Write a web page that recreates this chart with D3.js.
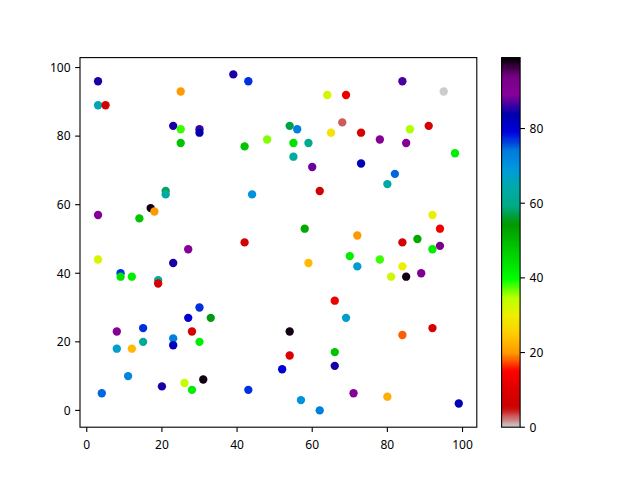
<!DOCTYPE html>
<html>
<head>
<meta charset="utf-8">
<script src="https://cdn.jsdelivr.net/npm/d3@7"></script>
<style>
html,body{margin:0;padding:0;background:#fff;}
svg text{font-family:"Noto Sans","DejaVu Sans",sans-serif;font-size:12px;fill:#000;}
</style>
</head>
<body>
<svg id="chart" width="640" height="480"></svg>
<script>
const xValues = [3,3,5,25,39,43,23,25,30,30,25,42,48,21,21,44,3,14,17,18,27,42,84,95,64,69,54,56,68,65,73,78,86,91,85,55,59,55,98,60,73,82,80,62,92,94,58,72,84,88,94,92,3,23,9,9,12,19,19,30,27,33,8,15,28,23,23,15,30,8,12,11,4,20,26,28,31,43,59,70,72,78,84,81,85,89,66,69,54,92,84,54,66,52,66,71,80,57,62,99];
const yValues = [96,89,89,93,98,96,83,82,82,81,78,77,79,64,63,63,57,56,59,58,47,49,96,93,92,92,83,82,84,81,81,79,82,83,78,78,78,74,75,71,72,69,66,64,57,53,53,51,49,50,48,47,44,43,40,39,39,38,37,30,27,27,23,24,23,21,19,20,20,18,18,10,5,7,8,6,9,6,43,45,42,44,42,39,39,40,32,27,23,24,22,16,17,12,13,5,4,3,0,2];
const cValues = [85,65,8,20,85,77,85,38,86,84,48,48,36,58,63,70,90,48,98,20,90,8,87,0,32,12,57,73,3,28,8,90,35,8,90,44,60,63,42,88,83,75,63,6,30,13,52,20,8,52,93,42,32,85,77,44,42,62,8,77,80,55,90,77,8,73,82,62,42,68,23,72,75,85,34,42,98,77,23,42,68,38,30,33,98,91,12,68,98,8,18,10,48,80,85,90,22,70,73,83];
const xTicks = [0,20,40,60,80,100];
const yTicks = [0,20,40,60,80,100];
const cTicks = [0,20,40,60,80];
const cMin = 0, cMax = 99;

// nipy_spectral colormap segments
const specR=[0,0.4667,0.5333,0,0,0,0,0,0,0,0,0,0,0.7333,0.9333,1,1,1,0.8667,0.8,0.8];
const specG=[0,0,0,0,0,0.4667,0.6,0.6667,0.6667,0.6,0.7333,0.8667,1,1,0.9333,0.8,0.6,0,0,0,0.8];
const specB=[0,0.5333,0.6,0.6667,0.8667,0.8667,0.8667,0.6667,0.5333,0,0,0,0,0,0,0,0,0,0,0,0.8];
function nipySpectralR(t){
  t = 1 - Math.max(0, Math.min(1, t));
  // quantize to 256 like matplotlib
  const idx = Math.min(255, Math.floor(t*256));
  t = idx/255;
  const p = t*20, i = Math.min(19, Math.floor(p)), f = p - i;
  const ch = a => Math.round((a[i] + (a[i+1]-a[i])*f)*255);
  return `rgb(${ch(specR)},${ch(specG)},${ch(specB)})`;
}

const svg = d3.select("#chart");
const ax = {left:80, right:476.8, top:57.6, bottom:427.2};
const x = d3.scaleLinear().domain([-1.8,103.8]).range([ax.left, ax.right]);
const y = d3.scaleLinear().domain([-4.9,102.9]).range([ax.bottom, ax.top]);
const cNorm = d3.scaleLinear().domain([cMin,cMax]).range([0,1]);

// points
const data = xValues.map((v,i)=>({x:v,y:yValues[i],c:cValues[i]}));
svg.append("g").selectAll("circle").data(data).enter().append("circle")
  .attr("cx",d=>x(d.x)).attr("cy",d=>y(d.y)).attr("r",4.17)
  .attr("fill",d=>nipySpectralR(cNorm(d.c)));

// axes frame
svg.append("rect").attr("x",ax.left).attr("y",ax.top)
  .attr("width",ax.right-ax.left).attr("height",ax.bottom-ax.top)
  .attr("fill","none").attr("stroke","#000").attr("stroke-width",1.1);

const tl = 4.86;
const gx = svg.append("g");
xTicks.forEach(t=>{
  gx.append("line").attr("x1",x(t)).attr("x2",x(t)).attr("y1",ax.bottom).attr("y2",ax.bottom+tl).attr("stroke","#000").attr("stroke-width",1.1);
  gx.append("text").attr("x",x(t)).attr("y",448.7).attr("text-anchor","middle").text(t);
});
const gy = svg.append("g");
yTicks.forEach(t=>{
  gy.append("line").attr("x1",ax.left-tl).attr("x2",ax.left).attr("y1",y(t)).attr("y2",y(t)).attr("stroke","#000").attr("stroke-width",1.1);
  gy.append("text").attr("x",ax.left-tl-4.6).attr("y",y(t)+4.3).attr("text-anchor","end").text(t);
});

// colorbar
const cb = {left:501.6, right:520.1, top:57.6, bottom:427.2};
const cy = d3.scaleLinear().domain([cMin,cMax]).range([cb.bottom, cb.top]);
const defs = svg.append("defs");
const grad = defs.append("linearGradient").attr("id","cbg").attr("x1",0).attr("y1",1).attr("x2",0).attr("y2",0);
for(let k=0;k<=100;k++){
  grad.append("stop").attr("offset",k/100).attr("stop-color",nipySpectralR(k/100));
}
svg.append("rect").attr("x",cb.left).attr("y",cb.top).attr("width",cb.right-cb.left).attr("height",cb.bottom-cb.top)
  .attr("fill","url(#cbg)").attr("stroke","#000").attr("stroke-width",1.1);
const gc = svg.append("g");
cTicks.forEach(t=>{
  gc.append("line").attr("x1",cb.right).attr("x2",cb.right+tl).attr("y1",cy(t)).attr("y2",cy(t)).attr("stroke","#000").attr("stroke-width",1.1);
  gc.append("text").attr("x",cb.right+tl+4.6).attr("y",cy(t)+4.3).attr("text-anchor","start").text(t);
});
</script>
</body>
</html>
